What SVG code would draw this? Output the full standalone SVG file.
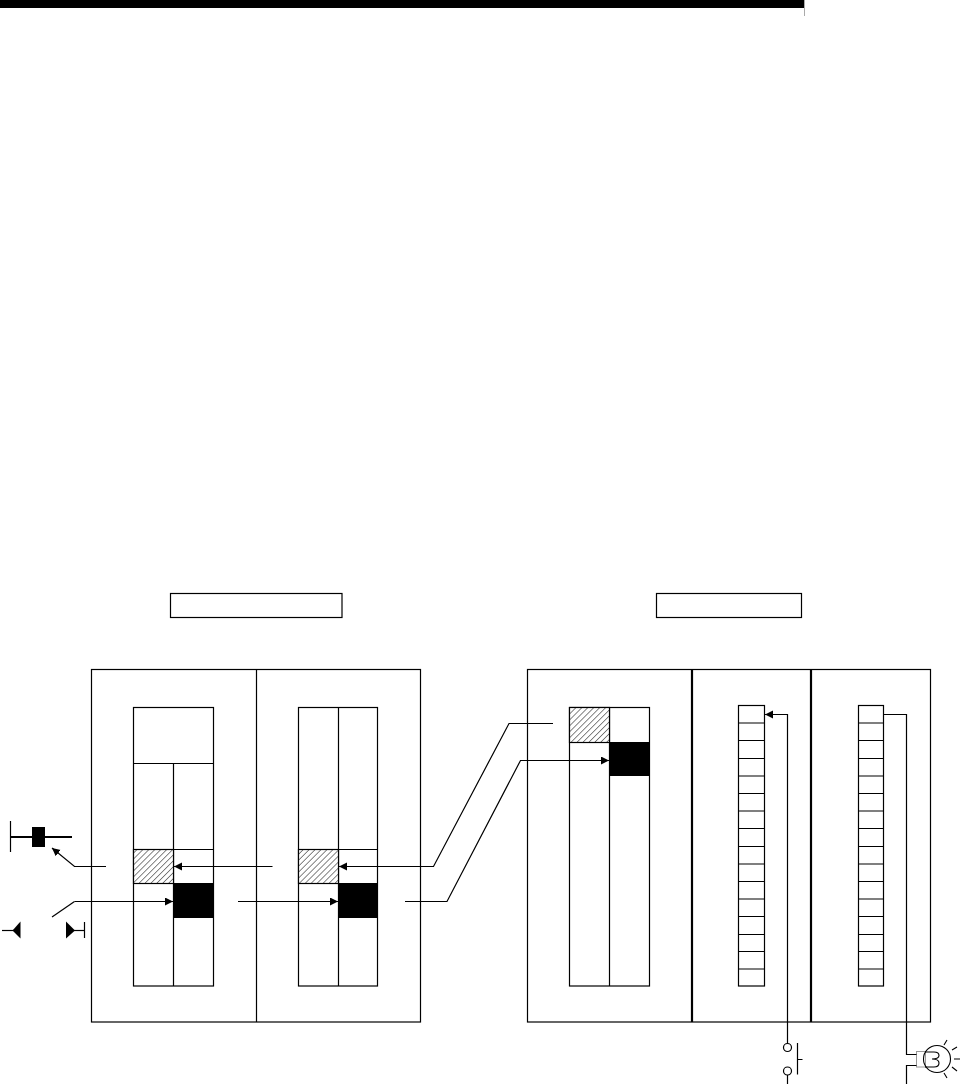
<svg xmlns="http://www.w3.org/2000/svg" width="960" height="1084" viewBox="0 0 960 1084">
<style>
.l{fill:none;stroke:#000;stroke-width:1.2}
.t{fill:none;stroke:#000;stroke-width:2.2}
.w{fill:none;stroke:#000;stroke-width:1.1}
.b{fill:#000;stroke:none}
.h{fill:url(#hatch);stroke:#000;stroke-width:1.2}
.a{fill:none;stroke:#000;stroke-width:1.2;marker-end:url(#arr)}
</style>
<defs>
<pattern id="hatch" patternUnits="userSpaceOnUse" width="4.2" height="4.2" patternTransform="rotate(45)">
<rect width="4.2" height="4.2" fill="#fff"/><line x1="0" y1="0" x2="0" y2="4.2" stroke="#444" stroke-width="1.3"/>
</pattern>
<marker id="arr" markerUnits="userSpaceOnUse" markerWidth="9" markerHeight="9" refX="8" refY="4" orient="auto">
<path d="M0 0L8 4L0 8Z" fill="#000"/>
</marker>
</defs>
<rect width="960" height="1084" fill="#fff"/>
<g id="header"><rect class="b" x="0" y="0" width="804" height="8"/><line x1="804.5" y1="0" x2="804.5" y2="16" stroke="#aaa" stroke-width="1"/></g>
<g id="label-left"><rect class="l" x="170.5" y="593.5" width="171.5" height="24"/></g>
<g id="label-right"><rect class="l" x="656.5" y="593.5" width="145" height="24"/></g>
<g id="unit-left"><rect class="l" x="91.5" y="669.5" width="329" height="352.5"/><line class="l" x1="256.5" y1="669.5" x2="256.5" y2="1022"/></g>
<g id="unit-right"><rect class="l" x="527.5" y="669.5" width="403" height="352.5"/><line class="t" x1="692" y1="669.5" x2="692" y2="1022"/><line class="t" x1="811" y1="669.5" x2="811" y2="1022"/></g>
<g id="memory-a">
<rect class="l" x="133.5" y="707.5" width="80" height="278.5"/>
<path class="l" d="M133.5 763.5H213.5M173.5 763.5V986M133.5 849.5H213.5"/>
<rect class="h" x="133.5" y="849.5" width="40" height="34"/>
<rect class="b" x="173" y="883" width="41" height="35"/>
</g>
<g id="memory-b">
<rect class="l" x="298.5" y="707.5" width="79" height="278.5"/>
<path class="l" d="M338.5 707.5V986M298.5 849.5H377.5"/>
<rect class="h" x="298.5" y="849.5" width="40" height="34"/>
<rect class="b" x="338" y="883" width="40" height="35"/>
</g>
<g id="memory-c">
<rect class="l" x="569.5" y="707.5" width="80" height="278.5"/>
<path class="l" d="M609.5 707.5V986M569.5 742.5H609.5"/>
<rect class="h" x="569.5" y="707.5" width="40" height="35"/>
<rect class="b" x="609" y="742" width="41" height="34"/>
</g>
<g id="input-points">
<rect class="l" x="738.5" y="705.5" width="26" height="280.5"/>
<path class="l" d="M738.5 723H764.5M738.5 740.5H764.5M738.5 758.5H764.5M738.5 776H764.5M738.5 793.5H764.5M738.5 811H764.5M738.5 828.5H764.5M738.5 846.5H764.5M738.5 864H764.5M738.5 881.5H764.5M738.5 899H764.5M738.5 916.5H764.5M738.5 934.5H764.5M738.5 951.5H764.5M738.5 969H764.5"/>
</g>
<g id="output-points">
<rect class="l" x="858.5" y="705.5" width="25" height="280.5"/>
<path class="l" d="M858.5 723H883.5M858.5 740.5H883.5M858.5 758.5H883.5M858.5 776H883.5M858.5 793.5H883.5M858.5 811H883.5M858.5 828.5H883.5M858.5 846.5H883.5M858.5 864H883.5M858.5 881.5H883.5M858.5 899H883.5M858.5 916.5H883.5M858.5 934.5H883.5M858.5 951.5H883.5M858.5 969H883.5"/>
</g>
<g id="coil-symbol">
<line class="l" x1="10.5" y1="821" x2="10.5" y2="852"/>
<line class="t" x1="11" y1="837" x2="72" y2="837"/>
<rect class="b" x="32" y="827" width="13" height="20"/>
</g>
<g id="contact-symbol">
<line class="l" x1="2" y1="930.5" x2="14" y2="930.5"/>
<path class="b" d="M12.5 930.5L20.5 921.5V938.5Z"/>
<path class="b" d="M66 921.5L75 930.5L66 938.5Z"/>
<line class="l" x1="74" y1="930.5" x2="84.5" y2="930.5"/>
<line class="l" x1="84.5" y1="922" x2="84.5" y2="938"/>
</g>
<g id="switch-symbol">
<circle class="l" cx="787.5" cy="1047.5" r="4"/>
<circle class="l" cx="787.5" cy="1071" r="4"/>
<line class="l" x1="787.5" y1="1075" x2="787.5" y2="1084"/>
<path class="l" d="M797.5 1043V1074.5M797.5 1059.5H802.5"/>
</g>
<g id="lamp-symbol">
<rect x="916.5" y="1051.5" width="9" height="15.5" fill="#fff" stroke="#999" stroke-width="1"/>
<circle class="w" cx="937" cy="1059" r="13.5"/>
<path class="w" d="M925 1052H934Q939 1052 939 1055.5T932 1059Q939 1059 939 1063T934 1067H925"/>
<path class="w" d="M947 1040L944 1045M957 1047L952 1050M960 1059H954M957 1071L952 1067M947 1078L944 1073"/>
</g>
<g id="connectors">
<path class="a" d="M106 866.5H74.5L52 848"/>
<path class="l" d="M52 917L74.5 901.5"/>
<path class="a" d="M74.5 901.5H173"/>
<path class="a" d="M272.5 866.5H174"/>
<path class="a" d="M238 901.5H338"/>
<path class="a" d="M553 723.5H509L433.5 866.5H339"/>
<path class="a" d="M405 901.5H447L520.5 760.5H609"/>
<path class="a" d="M787.5 1043.5V714.5H765"/>
<path class="l" d="M883.5 714.5H906.5V1054.5H916.5M916.5 1065.5H906.5V1084"/>
</g>
</svg>
